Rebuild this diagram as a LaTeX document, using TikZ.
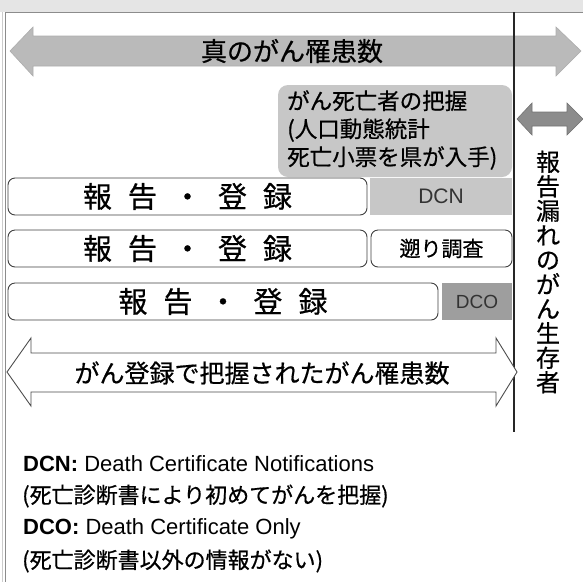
\documentclass[tikz,border=0pt]{standalone}
\usepackage{fontspec}
\setmainfont{Noto Sans CJK JP}[FakeBold=0.6]
\newfontfamily\lat{Liberation Sans}
\begin{document}
\begin{tikzpicture}[x=1pt,y=-1pt,
  rowbox/.style={draw=black!75,line width=0.9pt,rounded corners=7pt,fill=white},
  arrowfill/.style={fill=black!27,draw=black!32,line width=0.6pt},
  lbl/.style={inner sep=0pt,anchor=center}]
\useasboundingbox (0,0) rectangle (583,582);
\fill[black!10] (0,0) rectangle (583,12);
\draw[black!45,line width=0.8pt] (5,12) -- (583,12);
\draw[black!45,line width=0.8pt] (5,12) -- (5,582);
\draw[black!20,line width=0.6pt] (2,12) -- (2,582);
% top arrow
\draw[arrowfill] (10,51) -- (33,27) -- (33,36) -- (556,36) -- (556,27) -- (581,51) -- (556,76) -- (556,66) -- (33,66) -- (33,76) -- cycle;
\node[lbl,font=\fontsize{26}{26}\selectfont] (true) at (292,51) {真のがん罹患数};
% gray box
\node[fill=black!22,rounded corners=10pt,minimum width=234pt,minimum height=92pt,inner sep=0pt] (death) at (395,131) {};
\node[lbl,anchor=west,font=\fontsize{22.5}{28}\selectfont,align=left] (deathtxt) at (287,130) {がん死亡者の把握\\(人口動態統計\\死亡小票を県が入手)};
% vertical line
\coordinate (vtop) at (514,12);
\coordinate (vbot) at (514,432);
\draw[black!85,line width=2.2pt] (vtop) -- (vbot);
% small arrow
\draw[fill=black!45,draw=black!55,line width=0.6pt] (517,119) -- (532,103) -- (532,112) -- (567,112) -- (567,103) -- (583,119) -- (567,135) -- (567,126) -- (532,126) -- (532,135) -- cycle;
% vertical text
\node[lbl,font=\fontsize{24}{24.5}\selectfont,align=center] (miss) at (548,272) {報\\告\\漏\\れ\\の\\が\\ん\\生\\存\\者};
% rows
\node[rowbox,minimum width=359pt,minimum height=37pt,inner sep=0pt] (r1) at (187.5,196.5) {};
\node[lbl,font=\fontsize{29}{29}\selectfont] at (r1) {報\hspace{16pt}告\hspace{16pt}・\hspace{16pt}登\hspace{16pt}録};
\node[fill=black!22,minimum width=142pt,minimum height=37pt,inner sep=0pt,font=\lat\fontsize{21}{21}\selectfont,text=black!80] (dcn) at (441,196.5) {DCN};
\node[rowbox,minimum width=359pt,minimum height=37pt,inner sep=0pt] (r2) at (187.5,248.5) {};
\node[lbl,font=\fontsize{29}{29}\selectfont] at (r2) {報\hspace{16pt}告\hspace{16pt}・\hspace{16pt}登\hspace{16pt}録};
\node[rowbox,minimum width=141pt,minimum height=37pt,inner sep=0pt,font=\fontsize{21}{21}\selectfont] (sokan) at (441.5,248.5) {遡り調査};
\node[rowbox,minimum width=430pt,minimum height=37pt,inner sep=0pt] (r3) at (223,301.5) {};
\node[lbl,font=\fontsize{29}{29}\selectfont] at (r3) {報\hspace{16pt}告\hspace{16pt}・\hspace{16pt}登\hspace{16pt}録};
\node[fill=black!38,minimum width=70pt,minimum height=37pt,inner sep=0pt,font=\lat\fontsize{19}{19}\selectfont,text=black!80] (dco) at (477,301.5) {DCO};
% bottom arrow
\draw[fill=white,draw=black!70,line width=0.9pt] (7,372) -- (31,338) -- (31,353) -- (496,353) -- (496,338) -- (517,372) -- (496,406) -- (496,392) -- (31,392) -- (31,406) -- cycle;
\node[lbl,font=\fontsize{25}{25}\selectfont] (reg) at (262,373) {がん登録で把握されたがん罹患数};
% legend
\node[lbl,anchor=west,font=\lat\fontsize{22}{22}\selectfont] (l1) at (23,464) {{\bfseries DCN:} Death Certificate Notifications};
\node[lbl,anchor=west,font=\fontsize{22}{22}\selectfont] (l2) at (22,496) {(死亡診断書により初めてがんを把握)};
\node[lbl,anchor=west,font=\lat\fontsize{22}{22}\selectfont] (l3) at (23,529) {{\bfseries DCO:} Death Certificate Only};
\node[lbl,anchor=west,font=\fontsize{22}{22}\selectfont] (l4) at (22,561) {(死亡診断書以外の情報がない)};
\end{tikzpicture}
\end{document}
